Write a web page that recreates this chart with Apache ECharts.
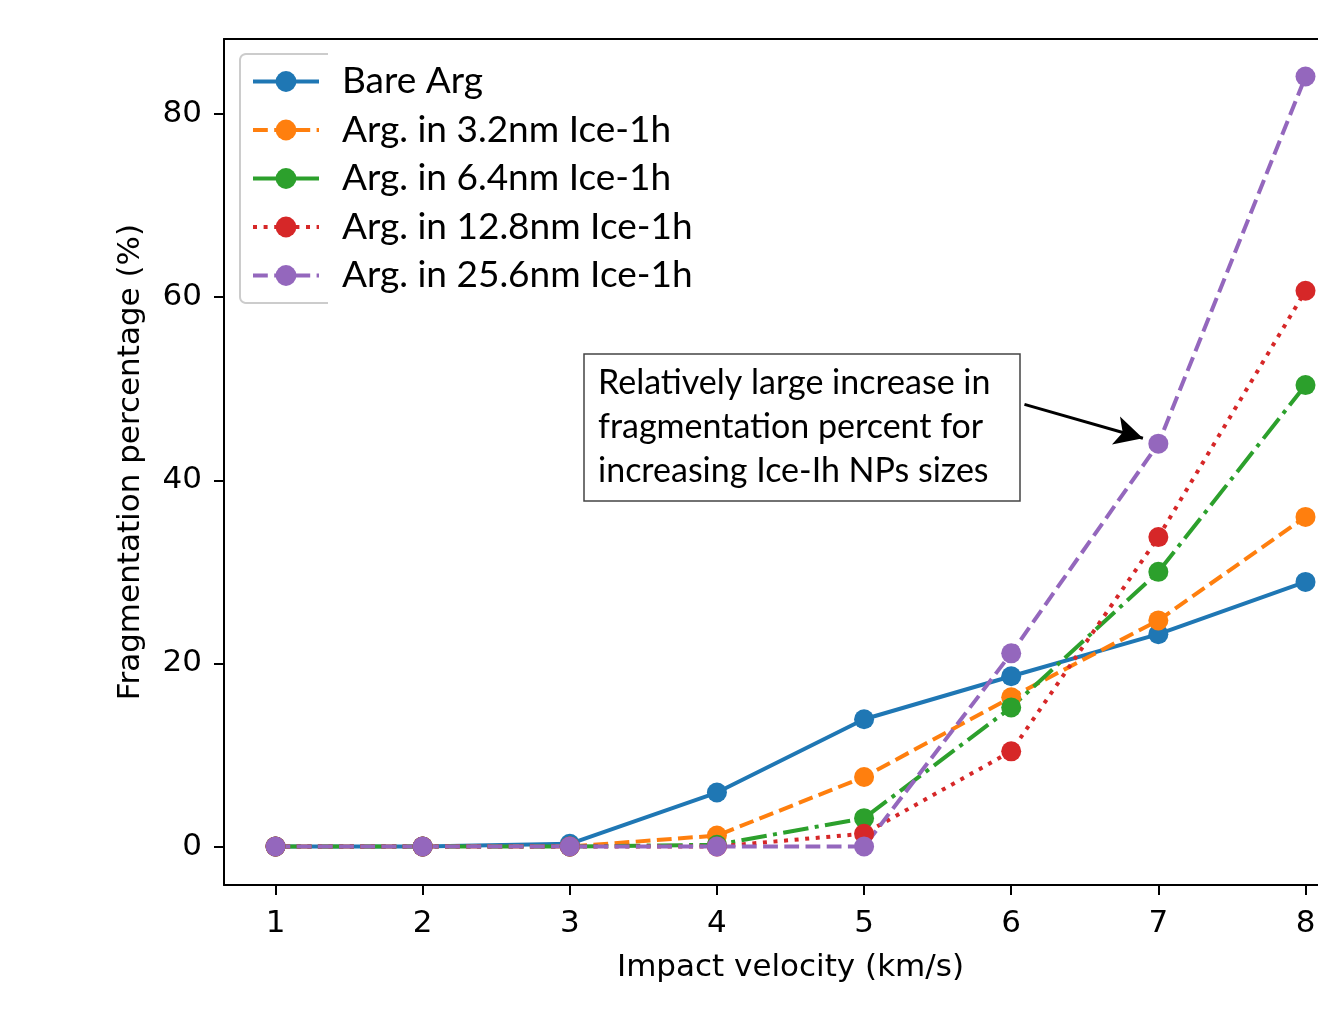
<!DOCTYPE html>
<html>
<head>
<meta charset="utf-8">
<script src="https://cdn.jsdelivr.net/npm/echarts@6/dist/echarts.min.js"></script>
<style>
  html, body { margin: 0; padding: 0; background: #fff; }
  #chart { width: 1318px; height: 1036px; }
</style>
</head>
<body>
<div id="chart"></div>
<script>
// Impact velocities (km/s)
const velocities = [1, 2, 3, 4, 5, 6, 7, 8];

// Fragmentation percentage (%) per system
const bareArg = [0, 0, 0.3, 5.9, 13.9, 18.6, 23.2, 28.9];
const argIce32 = [0, 0, 0, 1.2, 7.6, 16.3, 24.7, 36.0];
const argIce64 = [0, 0, 0, 0.2, 3.1, 15.2, 30.0, 50.4];
const argIce128 = [0, 0, 0, 0, 1.4, 10.4, 33.8, 60.7];
const argIce256 = [0, 0, 0, 0, 0, 21.1, 44.0, 84.1];

const seriesNames = [
  'Bare Arg',
  'Arg. in 3.2nm Ice-1h',
  'Arg. in 6.4nm Ice-1h',
  'Arg. in 12.8nm Ice-1h',
  'Arg. in 25.6nm Ice-1h'
];

const xTicks = [1, 2, 3, 4, 5, 6, 7, 8];
const yTicks = [0, 20, 40, 60, 80];

const annotationText = 'Relatively large increase in\nfragmentation percent for\nincreasing Ice-Ih NPs sizes';

const colors = ['#1f77b4', '#ff7f0e', '#2ca02c', '#d62728', '#9467bd'];
const LW = 4;
const dashes = [
  'solid',
  [3.7 * LW, 1.6 * LW],
  [6.4 * LW, 1.6 * LW, 1 * LW, 1.6 * LW],
  [1 * LW, 1.65 * LW],
  [3.7 * LW, 1.6 * LW]
];
const allValues = [bareArg, argIce32, argIce64, argIce128, argIce256];

const tickFont = 'DejaVu Sans';
const textFont = 'Lato';

const series = allValues.map((vals, i) => ({
  name: seriesNames[i],
  type: 'line',
  xAxisIndex: 0,
  data: velocities.map((v, j) => [v, vals[j]]),
  symbol: 'circle',
  symbolSize: 20,
  showSymbol: true,
  color: colors[i],
  itemStyle: { color: colors[i] },
  lineStyle: { color: colors[i], width: LW, type: dashes[i], cap: 'butt' },
  emphasis: { disabled: true },
  animation: false
}));

// Arrow pointing at the 25.6nm point at 7 km/s
series[4].markLine = {
  silent: true,
  animation: false,
  symbol: ['none', 'arrow'],
  symbolSize: [22, 28],
  lineStyle: { color: '#000', width: 3, type: 'solid' },
  label: { show: false },
  emphasis: { disabled: true },
  data: [[{ coord: [6.09, 48.3] }, { coord: [6.895, 44.6] }]]
};

// Legend frame (left part, rounded corners)
function cornerPts(cx, cy, r, a0, a1) {
  const pts = [];
  for (let k = 0; k <= 6; k++) {
    const a = a0 + (a1 - a0) * k / 6;
    pts.push([cx + r * Math.cos(a), cy + r * Math.sin(a)]);
  }
  return pts;
}
const framePts = [[328, 54]]
  .concat(cornerPts(246, 60, 6, -Math.PI / 2, -Math.PI))
  .concat(cornerPts(246, 297, 6, Math.PI, Math.PI / 2))
  .concat([[328, 303]]);

const legendData = seriesNames.map((name, i) => ({
  name: name,
  lineStyle: { color: colors[i], width: LW, type: dashes[i], cap: 'butt' },
  itemStyle: { color: colors[i] }
}));

const frameLine = { show: true, onZero: false, lineStyle: { color: '#000', width: 2 } };

const chart = echarts.init(document.getElementById('chart'), null, { renderer: 'canvas' });

chart.setOption({
  animation: false,
  backgroundColor: '#fff',
  grid: {
    left: 224, top: 39, width: 1133, height: 846,
    show: false,
    containLabel: false, outerBoundsMode: 'none'
  },
  xAxis: [
    {
      type: 'value', position: 'bottom', min: 0.65, max: 8.35,
      name: 'Impact velocity (km/s)', nameLocation: 'middle', nameGap: 67,
      nameTextStyle: { fontFamily: tickFont, fontSize: 31, color: '#000' },
      axisLine: frameLine,
      axisTick: { show: true, length: 10, lineStyle: { color: '#000', width: 2 }, customValues: xTicks },
      axisLabel: { fontFamily: tickFont, fontSize: 31, color: '#000', margin: 23, customValues: xTicks },
      splitLine: { show: false }
    },
    {
      // top edge of the frame
      type: 'value', position: 'top', min: 0.65, max: 8.35,
      axisLine: frameLine,
      axisTick: { show: false },
      axisLabel: { show: false },
      splitLine: { show: false }
    }
  ],
  yAxis: {
    type: 'value', min: -4.2, max: 88.2,
    name: 'Fragmentation percentage (%)', nameLocation: 'middle', nameGap: 78,
    nameTextStyle: { fontFamily: tickFont, fontSize: 31, color: '#000' },
    axisLine: frameLine,
    axisTick: { show: true, length: 10, lineStyle: { color: '#000', width: 2 }, customValues: yTicks },
    axisLabel: { fontFamily: tickFont, fontSize: 31, color: '#000', margin: 22, customValues: yTicks },
    splitLine: { show: false }
  },
  legend: {
    orient: 'vertical',
    left: 251, top: 63,
    padding: 0,
    itemWidth: 66, itemHeight: 26, itemGap: 11.5,
    selectedMode: false,
    textStyle: { fontFamily: textFont, fontSize: 37, color: '#000', padding: [0, 0, 0, 18] },
    data: legendData
  },
  graphic: [
    {
      type: 'polyline',
      silent: true,
      z: 1,
      shape: { points: framePts },
      style: { stroke: '#cccccc', lineWidth: 2, fill: null }
    },
    {
      type: 'rect',
      silent: true,
      z: 10,
      shape: { x: 584, y: 354, width: 436, height: 147 },
      style: { fill: '#fff', stroke: '#444', lineWidth: 1.5 }
    },
    {
      type: 'text',
      silent: true,
      z: 11,
      x: 598, y: 427.5,
      style: {
        text: annotationText,
        font: '34px Lato',
        fill: '#000',
        lineHeight: 44,
        verticalAlign: 'middle',
        align: 'left'
      }
    }
  ],
  series: series
});
</script>
</body>
</html>
